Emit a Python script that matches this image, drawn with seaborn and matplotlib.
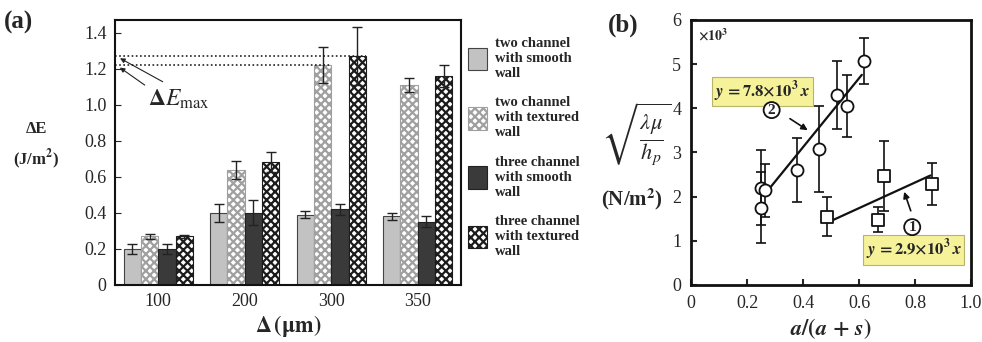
import numpy as np
import pandas as pd
import seaborn as sns
from matplotlib import pyplot as plt

sns.set_style('ticks')
plt.rcParams['font.family'] = ['Liberation Serif', 'DejaVu Serif']
plt.rcParams['mathtext.fontset'] = 'stix'
plt.rcParams['hatch.linewidth'] = 1.6

#%% (a) energy barrier per gap
gaps = ['100', '200', '300', '350']
kinds = ['two channel\nwith smooth\nwall', 'two channel\nwith textured\nwall',
         'three channel\nwith smooth\nwall', 'three channel\nwith textured\nwall']
two_smooth = [0.20, 0.40, 0.39, 0.38]
two_smooth_err = [0.03, 0.05, 0.02, 0.02]
two_textured = [0.27, 0.64, 1.22, 1.11]
two_textured_err = [0.015, 0.05, 0.10, 0.04]
three_smooth = [0.20, 0.40, 0.42, 0.35]
three_smooth_err = [0.03, 0.07, 0.03, 0.03]
three_textured = [0.27, 0.68, 1.27, 1.16]
three_textured_err = [0.01, 0.055, 0.16, 0.06]

#%% (b) scaling with a/(a+s), values in units of 10^3
ratio_2 = [0.25, 0.25, 0.265, 0.378, 0.457, 0.523, 0.558, 0.619]
root_2 = [1.75, 2.20, 2.15, 2.60, 3.08, 4.31, 4.06, 5.07]
root_2_err = [0.80, 0.85, 0.60, 0.73, 0.98, 0.77, 0.70, 0.52]
ratio_1 = [0.485, 0.669, 0.688, 0.86]
root_1 = [1.55, 1.48, 2.47, 2.29]
root_1_err = [0.45, 0.28, 0.80, 0.48]
slope_2, fit_x2 = 7.8, [0.26, 0.61]
slope_1, fit_x1 = 2.9, [0.49, 0.855]

#%%
df = pd.DataFrame({
    'gap': gaps * 4,
    'kind': np.repeat(kinds, 4),
    'dE': two_smooth + two_textured + three_smooth + three_textured,
})
errs = [two_smooth_err, two_textured_err, three_smooth_err, three_textured_err]

fig = plt.figure(figsize=(9.82, 3.42), dpi=100)
ax1 = fig.add_axes([0.1171, 0.1667, 0.3523, 0.7749])
ax2 = fig.add_axes([0.7037, 0.1667, 0.2851, 0.7749])

sns.barplot(data=df, x='gap', y='dE', hue='kind', errorbar=None, width=0.8,
            saturation=1, legend=False, ax=ax1)

styles = [
    dict(fc='#c2c2c2', hatch='', hc='#444444'),
    dict(fc='white', hatch='xxxx', hc='#a0a0a0'),
    dict(fc='#3a3a3a', hatch='', hc='#222222'),
    dict(fc='white', hatch='xxxx', hc='#1c1c1c'),
]
bars = list(ax1.containers)
for cont, st, err in zip(bars, styles, errs):
    for p in cont:
        p.set_facecolor(st['fc'])
        p.set_hatch(st['hatch'])
        if hasattr(p, 'set_hatchcolor'):
            p.set_hatchcolor(st['hc'])
            p.set_edgecolor('#444444')
        else:
            p.set_edgecolor(st['hc'])
        p.set_linewidth(0.8)
    xs = [p.get_x() + p.get_width() / 2 for p in cont]
    ys = [p.get_height() for p in cont]
    ax1.errorbar(xs, ys, yerr=err, fmt='none', ecolor='#222222',
                 elinewidth=1, capsize=3.5, capthick=1)

# dotted guides to the two tallest bars
for ci in (1, 3):
    p = bars[ci][2]
    ax1.plot([-0.5, p.get_x() + p.get_width()], [p.get_height()] * 2,
             ls=(0, (1, 1.5)), color='#222222', lw=1.2)
    ax1.annotate('', xy=(-0.47, p.get_height() - 0.005),
                 xytext=(0.08 if ci == 3 else -0.13, 1.12 if ci == 3 else 1.10),
                 arrowprops=dict(arrowstyle='-|>', lw=0.8, color='#222222',
                                 mutation_scale=7))
ax1.text(-0.12, 1.03, r'$\mathbf{\Delta}\mathit{E}_{\mathrm{max}}$', fontsize=17,
         ha='left', va='center')

ax1.set_xlim(-0.5, 3.5)
ax1.set_ylim(0, 1.47)
ax1.set_yticks([0, 0.2, 0.4, 0.6, 0.8, 1.0, 1.2, 1.4])
ax1.set_yticklabels(['0', '0.2', '0.4', '0.6', '0.8', '1.0', '1.2', '1.4'])
ax1.tick_params(axis='y', direction='in', length=4, labelsize=13, pad=6)
ax1.tick_params(axis='x', length=0, labelsize=13, pad=6)
ax1.set_ylabel('')
ax1.set_xlabel(r'$\mathbf{\Delta}\,\mathbf{(\mu m)}$', fontsize=16, labelpad=2)
for s in ax1.spines.values():
    s.set_linewidth(1.5)
    s.set_color('#111111')

ax1.legend(bars, kinds, loc='upper left', bbox_to_anchor=(455 / 982, 1 - 24 / 342),
           bbox_transform=fig.transFigure, frameon=False,
           handlelength=1.3, handleheight=2.0, handletextpad=0.55, labelspacing=1.12,
           prop=dict(family='Liberation Serif', weight='bold', size=10.5))

fig.text(36 / 982, 1 - 146 / 342, 'ΔE\n(J/m$^{\\mathbf{2}}$)', ha='center', va='center',
         fontsize=12, fontweight='bold', linespacing=1.6)
fig.text(4 / 982, 1 - 22 / 342, '(a)', fontsize=18, fontweight='bold', va='center')

#%% (b)
ax2.errorbar(ratio_2, root_2, yerr=root_2_err, fmt='none', ecolor='#111111',
             elinewidth=1.2, capsize=3.5, capthick=1.2)
ax2.errorbar(ratio_1, root_1, yerr=root_1_err, fmt='none', ecolor='#111111',
             elinewidth=1.2, capsize=3.5, capthick=1.2)
fit = pd.DataFrame({
    'x': fit_x2 + fit_x1,
    'y': [slope_2 * v for v in fit_x2] + [slope_1 * v for v in fit_x1],
    'line': ['2', '2', '1', '1'],
})
sns.lineplot(data=fit, x='x', y='y', units='line', estimator=None, color='#111111',
             lw=1.6, ax=ax2)
sns.scatterplot(x=ratio_2, y=root_2, marker='o', s=75, facecolor='white',
                edgecolor='#111111', linewidth=1.3, zorder=3, ax=ax2)
sns.scatterplot(x=ratio_1, y=root_1, marker='s', s=70, facecolor='white',
                edgecolor='#111111', linewidth=1.3, zorder=3, ax=ax2)

box = dict(boxstyle='square,pad=0.15', fc='#f6f29a', ec='#b8b46a', lw=0.8)
ax2.text(0.254, 4.38, r'$\mathbfit{y}\mathbf{\,=7.8{\times}10^3}\,\mathbfit{x}$',
         fontsize=12, ha='center', va='center', bbox=box)
ax2.text(0.796, 0.80, r'$\mathbfit{y}\mathbf{\,=2.9{\times}10^3}\,\mathbfit{x}$',
         fontsize=12, ha='center', va='center', bbox=box)
circ = dict(boxstyle='circle,pad=0.1', fc='white', ec='#111111', lw=1.3)
ax2.text(0.288, 3.96, '2', fontsize=11, fontweight='bold', ha='center', va='center', bbox=circ)
ax2.text(0.79, 1.31, '1', fontsize=11, fontweight='bold', ha='center', va='center', bbox=circ)
ax2.annotate('', xy=(0.425, 3.47), xytext=(0.345, 3.80),
             arrowprops=dict(arrowstyle='-|>', lw=1.2, color='#111111', mutation_scale=9))
ax2.annotate('', xy=(0.758, 2.17), xytext=(0.788, 1.62),
             arrowprops=dict(arrowstyle='-|>', lw=1.2, color='#111111', mutation_scale=9))
ax2.text(0.025, 5.85, r'$\mathbf{\times 10^3}$', fontsize=10, ha='left', va='top')

ax2.set_xlim(0, 1.0)
ax2.set_ylim(0, 6)
ax2.set_xticks([0, 0.2, 0.4, 0.6, 0.8, 1.0])
ax2.set_xticklabels(['0', '0.2', '0.4', '0.6', '0.8', '1.0'])
ax2.set_yticks(range(7))
ax2.tick_params(direction='in', length=4, width=1.5, labelsize=13, pad=7)
ax2.set_xlabel(r'$\mathbfit{a}\mathbf{/(}\mathbfit{a}\mathbf{\,+\,}\mathbfit{s}\mathbf{)}$',
               fontsize=16, labelpad=3)
ax2.set_ylabel('')
for s in ax2.spines.values():
    s.set_linewidth(2)
    s.set_color('#111111')

fig.text(636 / 982, 1 - 134 / 342, r'$\sqrt{\frac{\lambda\mu}{h_p}}$', fontsize=23,
         ha='center', va='center')
fig.text(632 / 982, 1 - 199 / 342, '(N/m$^{\\mathbf{2}}$)', fontsize=15,
         fontweight='bold', ha='center', va='center')
fig.text(608 / 982, 1 - 25 / 342, '(b)', fontsize=18, fontweight='bold', va='center')

fig.savefig('out.png', dpi=100)
